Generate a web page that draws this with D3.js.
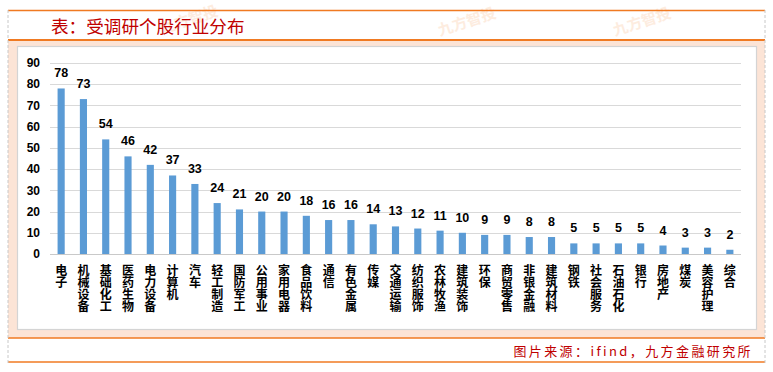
<!DOCTYPE html>
<html><head><meta charset="utf-8">
<script src="https://cdn.jsdelivr.net/npm/d3@7"></script>
<style>
html,body{margin:0;padding:0;background:#fff;}
svg{display:block;}
</style></head>
<body>
<script>
const categories = ["电子","机械设备","基础化工","医药生物","电力设备","计算机","汽车","轻工制造","国防军工","公用事业","家用电器","食品饮料","通信","有色金属","传媒","交通运输","纺织服饰","农林牧渔","建筑装饰","环保","商贸零售","非银金融","建筑材料","钢铁","社会服务","石油石化","银行","房地产","煤炭","美容护理","综合"];
const values = [78,73,54,46,42,37,33,24,21,20,20,18,16,16,14,13,12,11,10,9,9,8,8,5,5,5,5,4,3,3,2];
const yTicks = [0,10,20,30,40,50,60,70,80,90];
const titleText = "表：受调研个股行业分布";
const sourceText = "图片来源：ifind，九方金融研究所";
const watermarkText = "九方智投";

const W = 773, H = 372;
const svg = d3.select("body").append("svg").attr("width", W).attr("height", H);
const orange = "#F07A22";
const cjk = "'Noto Sans CJK SC','Microsoft YaHei',sans-serif";

// frame
svg.append("rect").attr("x",8).attr("y",41).attr("width",757).attr("height",297).attr("fill","#FCE4D6");
svg.append("rect").attr("x",17.5).attr("y",46.5).attr("width",739).attr("height",283).attr("fill","#fff").attr("stroke","#d4d4d4").attr("stroke-width",1.2);

// watermarks
const wm = [[162,34],[440,36],[615,36]];
wm.forEach(([x,y])=>{
  svg.append("text").attr("x",x).attr("y",y).attr("transform",`rotate(-18,${x},${y})`)
    .attr("font-family",cjk).attr("font-size",15).attr("font-weight","bold").attr("fill","#FDEBDC").attr("opacity",0.9)
    .text(watermarkText);
});

[10.5,40,338,362].forEach(y=>{
  svg.append("line").attr("x1",8).attr("x2",765).attr("y1",y).attr("y2",y).attr("stroke",orange).attr("stroke-width",y===40?2:1.6);
});
[8,765].forEach(x=>{
  svg.append("line").attr("x1",x).attr("x2",x).attr("y1",10).attr("y2",363).attr("stroke","#c8c8c8").attr("stroke-dasharray","3,2").attr("stroke-width",1);
});

svg.append("text").attr("x",51).attr("y",33).attr("font-family",cjk).attr("font-size",17.6)
  .attr("fill","#C00000").text(titleText);

svg.append("text").attr("x",753).attr("y",356).attr("text-anchor","end").attr("font-family",cjk)
  .attr("font-size",13).attr("letter-spacing","2.4px").attr("fill","#C00000").text(sourceText);

// chart
const x = d3.scaleBand().domain(categories).range([50,741]).paddingInner(0.68).paddingOuter(0.34);
const y = d3.scaleLinear().domain([0,90]).range([254,63]);

const g = svg.append("g");
g.selectAll("line.grid").data(yTicks).join("line")
  .attr("x1",50).attr("x2",741).attr("y1",d=>Math.round(y(d))+0.5).attr("y2",d=>Math.round(y(d))+0.5)
  .attr("stroke",d=>d===0?"#c9c9c9":"#d9d9d9").attr("stroke-width",1);

g.selectAll("text.yt").data(yTicks).join("text")
  .attr("x",40).attr("y",d=>y(d)).attr("dy","0.35em").attr("text-anchor","end")
  .attr("font-family","'Liberation Sans',Arial,sans-serif").attr("font-weight","bold").attr("font-size",12)
  .attr("fill","#000").text(d=>d);

g.selectAll("rect.bar").data(values).join("rect")
  .attr("x",(d,i)=>x(categories[i])).attr("width",x.bandwidth())
  .attr("y",d=>y(d)).attr("height",d=>y(0)-y(d)).attr("fill","#5B9BD5");

g.selectAll("text.val").data(values).join("text")
  .attr("x",(d,i)=>x(categories[i])+x.bandwidth()/2).attr("y",d=>y(d)-11)
  .attr("text-anchor","middle").attr("font-family","'Liberation Sans',Arial,sans-serif")
  .attr("font-weight","bold").attr("font-size",12.5).attr("fill","#000").text(d=>d);

// vertical category labels
g.selectAll("text.cat").data(categories).join("text")
  .attr("x",c=>x(c)+x.bandwidth()/2).attr("y",264)
  .style("writing-mode","vertical-rl").style("text-orientation","upright")
  .attr("font-family",cjk).attr("font-weight","bold").attr("font-size",12).attr("fill","#000")
  .attr("text-anchor","start").text(c=>c);
</script>
</body></html>
